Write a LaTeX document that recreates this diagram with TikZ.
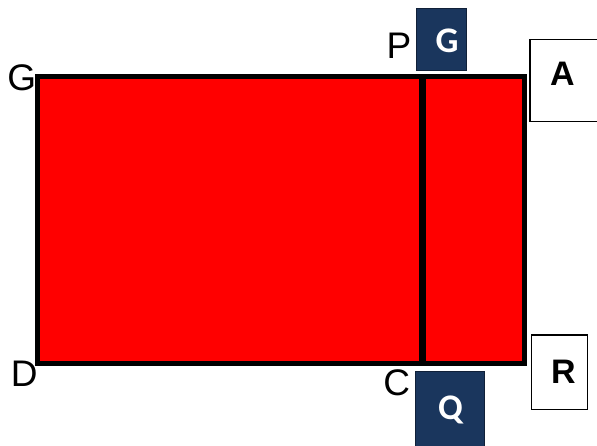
\documentclass[tikz,border=0pt]{standalone}
\usepackage{fontspec}
\setmainfont{Liberation Sans}
\newfontfamily\carlito{Carlito}
\definecolor{navy}{RGB}{26,54,93}
\begin{document}
\begin{tikzpicture}[x=1pt,y=-1pt,
  lbl/.style={font=\fontsize{37}{37}\selectfont, inner sep=0pt},
  navybox/.style={fill=navy, draw=navy!60!black, line width=1pt, inner sep=0pt},
  navytext/.style={text=white, font=\carlito\bfseries\fontsize{36}{36}\selectfont, inner sep=0pt, anchor=base},
  whitebox/.style={draw=black, line width=1.3pt, fill=white, inner sep=0pt},
  boxtext/.style={font=\bfseries\fontsize{34}{34}\selectfont, inner sep=0pt, anchor=base}]
\useasboundingbox (0,0) rectangle (597,446);
% main rectangle
\coordinate (tl) at (37.5,76.5);
\coordinate (br) at (524,363);
\draw[fill=red, line width=5pt] (tl) rectangle (br);
\coordinate (top) at (422,76.5);
\coordinate (bot) at (422,363);
\draw[line width=7pt] (top) -- (bot);
% corner labels
\node[lbl] (G) at (21.7,78) {G};
\node[lbl] (D) at (24.3,373.3) {D};
\node[lbl] (P) at (399,46) {P};
\node[lbl] (C) at (396.7,383) {C};
% navy boxes
\node[navybox, minimum width=50pt, minimum height=62pt] (gbox) at (441,39.5) {};
\node[navytext] (gtxt) at (447,52.5) {G};
\node[navybox, minimum width=69pt, minimum height=80pt] (qbox) at (450.3,411) {};
\node[navytext] (qtxt) at (450.5,419) {Q};
% white boxes
\node[whitebox, minimum width=72pt, minimum height=82.4pt] (abox) at (566,80.5) {};
\node[boxtext] (atxt) at (562.5,85.5) {A};
\node[whitebox, minimum width=56pt, minimum height=74.3pt] (rbox) at (559.7,372.2) {};
\node[boxtext] (rtxt) at (563.5,383.5) {R};
\end{tikzpicture}
\end{document}
